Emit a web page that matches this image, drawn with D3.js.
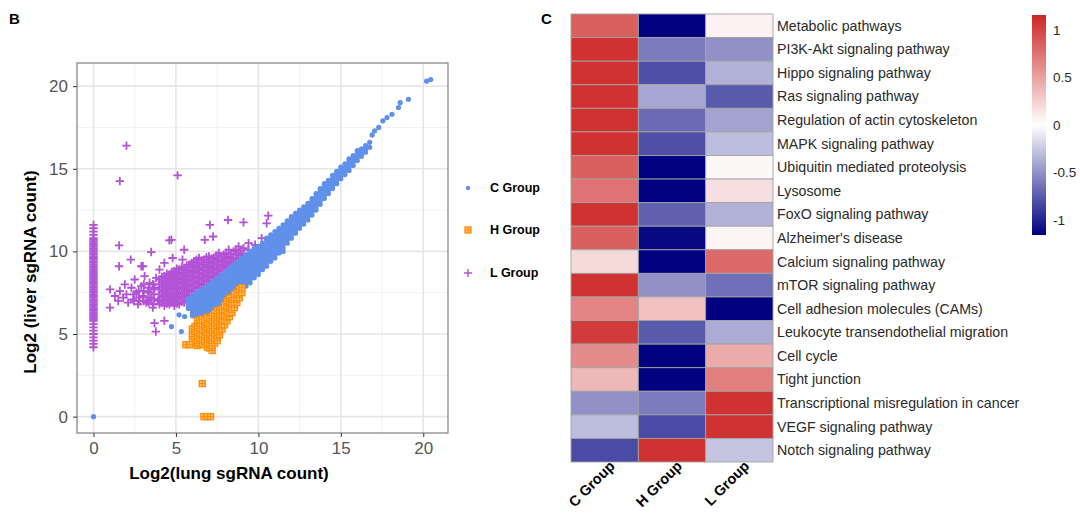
<!DOCTYPE html>
<html>
<head>
<meta charset="utf-8">
<script src="https://cdn.jsdelivr.net/npm/d3@7"></script>
<style>
  body { margin: 0; background: #fff; }
  svg text { font-family: "Liberation Sans", Arial, Helvetica, sans-serif; }
</style>
</head>
<body>
<div id="chart"></div>
<script>
// ---- panel B data ----
var xTicks = [0, 5, 10, 15, 20];
var yTicks = [0, 5, 10, 15, 20];

// C group: dense diagonal band, one entry per x with the y values seen there
var cBand = [
  [5.75, [6.55, 6.75, 6.95, 7.15]],
  [6.0, [6.1, 6.3, 6.5, 6.7, 6.9, 7.1, 7.3]],
  [6.25, [5.95, 6.15, 6.35, 6.55, 6.75, 6.95, 7.15, 7.35, 7.5]],
  [6.5, [5.9, 6.1, 6.3, 6.5, 6.7, 6.9, 7.1, 7.3, 7.5, 7.65]],
  [6.75, [5.95, 6.15, 6.35, 6.55, 6.75, 6.95, 7.15, 7.35, 7.55, 7.8]],
  [7.0, [6.0, 6.2, 6.4, 6.6, 6.8, 7.0, 7.2, 7.4, 7.6, 7.8, 8.0]],
  [7.25, [6.2, 6.4, 6.6, 6.8, 7.0, 7.2, 7.4, 7.6, 7.8, 8.0, 8.2]],
  [7.5, [6.4, 6.6, 6.8, 7.0, 7.2, 7.4, 7.6, 7.8, 8.0, 8.2, 8.4]],
  [7.75, [6.6, 6.8, 7.0, 7.2, 7.4, 7.6, 7.8, 8.0, 8.2, 8.4, 8.6]],
  [8.0, [6.8, 7.0, 7.2, 7.4, 7.6, 7.8, 8.0, 8.2, 8.4, 8.6, 8.8]],
  [8.25, [7.0, 7.2, 7.4, 7.6, 7.8, 8.0, 8.2, 8.4, 8.6, 8.8, 9.0]],
  [8.5, [7.2, 7.4, 7.6, 7.8, 8.0, 8.2, 8.4, 8.6, 8.8, 9.0, 9.2]],
  [8.75, [7.4, 7.6, 7.8, 8.0, 8.2, 8.4, 8.6, 8.8, 9.0, 9.2, 9.4]],
  [9.0, [7.7, 7.9, 8.1, 8.3, 8.5, 8.7, 8.9, 9.1, 9.3, 9.5, 9.6]],
  [9.25, [7.9, 8.1, 8.3, 8.5, 8.7, 8.9, 9.1, 9.3, 9.5, 9.7, 9.8]],
  [9.5, [8.1, 8.3, 8.5, 8.7, 8.9, 9.1, 9.3, 9.5, 9.7, 9.9, 10.0]],
  [9.75, [8.4, 8.6, 8.8, 9.0, 9.2, 9.4, 9.6, 9.8, 10.0, 10.2]],
  [10.0, [8.6, 8.8, 9.0, 9.2, 9.4, 9.6, 9.8, 10.0, 10.2, 10.3]],
  [10.25, [8.9, 9.1, 9.3, 9.5, 9.7, 9.9, 10.1, 10.3, 10.5]],
  [10.5, [9.1, 9.3, 9.5, 9.7, 9.9, 10.1, 10.3, 10.5, 10.7, 10.8]],
  [10.75, [9.4, 9.6, 9.8, 10.0, 10.2, 10.4, 10.6, 10.8, 11.0]],
  [11.0, [9.6, 9.8, 10.0, 10.2, 10.4, 10.6, 10.8, 11.0, 11.2]],
  [11.25, [9.9, 10.1, 10.3, 10.5, 10.7, 10.9, 11.1, 11.3, 11.4]],
  [11.5, [10.2, 10.4, 10.6, 10.8, 11.0, 11.2, 11.4, 11.6]],
  [11.75, [10.5, 10.7, 10.9, 11.1, 11.3, 11.5, 11.7, 11.85]],
  [12.0, [10.8, 11.0, 11.2, 11.4, 11.6, 11.8, 12.0, 12.1]],
  [12.25, [11.1, 11.3, 11.5, 11.7, 11.9, 12.1, 12.3]],
  [12.5, [11.4, 11.6, 11.8, 12.0, 12.2, 12.4, 12.5]],
  [12.75, [11.65, 11.85, 12.05, 12.25, 12.45, 12.7]],
  [13.0, [11.9, 12.1, 12.3, 12.5, 12.7, 12.9]],
  [13.25, [12.2, 12.4, 12.6, 12.8, 13.0, 13.2]],
  [13.5, [12.5, 12.7, 12.9, 13.1, 13.3, 13.5]],
  [13.75, [12.85, 13.05, 13.25, 13.45, 13.65, 13.8]],
  [14.0, [13.2, 13.4, 13.6, 13.8, 14.0, 14.1]],
  [14.25, [13.5, 13.7, 13.9, 14.1, 14.3]],
  [14.5, [13.8, 14.0, 14.2, 14.4, 14.6]],
  [14.75, [14.1, 14.3, 14.5, 14.7, 14.85]],
  [15.0, [14.4, 14.6, 14.8, 15.0, 15.1]],
  [15.25, [14.65, 14.85, 15.05, 15.3]],
  [15.5, [14.9, 15.1, 15.3, 15.5, 15.6]],
  [15.75, [15.2, 15.4, 15.6, 15.8]],
  [16.0, [15.5, 15.7, 15.9, 16.1]],
  [16.25, [15.75, 15.95, 16.2]],
  [16.5, [16.0, 16.2, 16.4]],
  [16.75, [16.3, 16.6]]
];
var cOutliers = [
  [0, 0], [4.73, 5.45], [5.33, 5.15], [5.19, 6.16], [5.53, 6.06], [11.5, 10.0],
  [12.2, 11.2], [16.9, 17.05], [17.05, 17.3], [17.3, 17.5], [17.55, 17.9],
  [17.8, 18.1], [18.1, 18.3], [18.5, 18.7], [18.6, 19.0], [19.1, 19.2],
  [20.2, 20.3], [20.45, 20.4]
];

// H group: wedge under the band
var hCloud = [
  [6.0, [4.4, 4.7, 5.0, 5.3]],
  [6.15, [4.55, 4.85, 5.15, 5.45]],
  [6.3, [4.3, 4.6, 4.9, 5.2, 5.5, 5.8]],
  [6.45, [4.45, 4.75, 5.05, 5.35, 5.65, 5.85]],
  [6.6, [4.4, 4.7, 5.0, 5.3, 5.6, 5.9]],
  [6.75, [4.35, 4.65, 4.95, 5.25, 5.55, 5.85]],
  [6.9, [4.2, 4.5, 4.8, 5.1, 5.4, 5.7, 6.0]],
  [7.05, [4.15, 4.45, 4.75, 5.05, 5.35, 5.65, 5.95]],
  [7.2, [4.0, 4.3, 4.6, 4.9, 5.2, 5.5, 5.8, 6.1]],
  [7.35, [4.45, 4.75, 5.05, 5.35, 5.65, 5.95, 6.25]],
  [7.5, [4.6, 4.9, 5.2, 5.5, 5.8, 6.1, 6.4]],
  [7.65, [4.95, 5.25, 5.55, 5.85, 6.15, 6.45]],
  [7.8, [5.3, 5.6, 5.9, 6.2, 6.5]],
  [7.95, [5.55, 5.85, 6.15, 6.45, 6.75]],
  [8.1, [5.8, 6.1, 6.4, 6.7, 7.0]],
  [8.25, [6.05, 6.35, 6.65, 6.95, 7.15]],
  [8.4, [6.3, 6.6, 6.9, 7.2]],
  [8.55, [6.6, 6.9, 7.2, 7.4]],
  [8.7, [6.9, 7.2, 7.5]],
  [8.85, [7.2, 7.5, 7.7]],
  [9.0, [7.5, 7.8]]
];
var hOutliers = [
  [5.6, 4.35], [5.85, 4.35], [6.6, 2.0], [6.7, 0], [6.9, 0], [7.1, 0]
];

// L group: strip at x = 0 and cloud above the band
var lStrip = [4.2, 4.4, 4.6, 4.8, 5.0, 5.2, 5.4, 5.6, 5.8, 5.9, 6.0, 6.1, 6.2,
  6.3, 6.4, 6.5, 6.6, 6.7, 6.8, 6.9, 7.0, 7.1, 7.2, 7.3, 7.4, 7.5, 7.6, 7.7,
  7.8, 7.9, 8.0, 8.1, 8.2, 8.3, 8.4, 8.5, 8.6, 8.7, 8.8, 8.9, 9.0, 9.1, 9.2,
  9.3, 9.4, 9.5, 9.6, 9.7, 9.8, 9.9, 10.0, 10.1, 10.2, 10.3, 10.4, 10.5, 10.6,
  10.7, 10.8, 11.0, 11.2, 11.4, 11.6];
var lCloud = [
  [2.45, [7.0, 7.4]],
  [2.75, [7.2, 7.6]],
  [3.05, [7.0, 7.6, 8.0]],
  [3.35, [6.9, 7.2, 7.5, 7.8]],
  [3.65, [6.8, 7.1, 7.4, 7.7, 8.0]],
  [4.0, [6.8, 7.1, 7.4, 7.7, 8.0, 8.3]],
  [4.15, [6.95, 7.25, 7.55, 7.85, 8.15, 8.45]],
  [4.3, [6.7, 7.0, 7.3, 7.6, 7.9, 8.2, 8.5]],
  [4.45, [6.85, 7.15, 7.45, 7.75, 8.05, 8.35, 8.65]],
  [4.6, [6.8, 7.1, 7.4, 7.7, 8.0, 8.3, 8.6]],
  [4.75, [6.95, 7.25, 7.55, 7.85, 8.15, 8.45, 8.75]],
  [4.9, [6.7, 7.0, 7.3, 7.6, 7.9, 8.2, 8.5, 8.8]],
  [5.05, [6.85, 7.15, 7.45, 7.75, 8.05, 8.35, 8.65, 8.95]],
  [5.2, [6.8, 7.1, 7.4, 7.7, 8.0, 8.3, 8.6, 8.9]],
  [5.35, [6.95, 7.25, 7.55, 7.85, 8.15, 8.45, 8.75, 9.05]],
  [5.5, [6.9, 7.2, 7.5, 7.8, 8.1, 8.4, 8.7, 9.0]],
  [5.65, [7.05, 7.35, 7.65, 7.95, 8.25, 8.55, 8.85, 9.15]],
  [5.8, [7.4, 7.7, 8.0, 8.3, 8.6, 8.9, 9.2]],
  [5.95, [7.55, 7.85, 8.15, 8.45, 8.75, 9.05, 9.3]],
  [6.1, [7.6, 7.9, 8.2, 8.5, 8.8, 9.1, 9.4]],
  [6.25, [7.75, 8.05, 8.35, 8.65, 8.95, 9.25, 9.5]],
  [6.4, [7.8, 8.1, 8.4, 8.7, 9.0, 9.3, 9.6]],
  [6.55, [7.95, 8.25, 8.55, 8.85, 9.15, 9.45]],
  [6.7, [8.0, 8.3, 8.6, 8.9, 9.2, 9.5]],
  [6.85, [8.15, 8.45, 8.75, 9.05, 9.35, 9.65]],
  [7.0, [8.2, 8.5, 8.8, 9.1, 9.4, 9.7]],
  [7.15, [8.35, 8.65, 8.95, 9.25, 9.55]],
  [7.3, [8.4, 8.7, 9.0, 9.3, 9.6]],
  [7.45, [8.55, 8.85, 9.15, 9.45, 9.75]],
  [7.6, [8.6, 8.9, 9.2, 9.5, 9.9]],
  [7.75, [8.8, 9.1, 9.4, 9.7]],
  [7.9, [8.9, 9.2, 9.5, 9.8]],
  [8.05, [9.0, 9.3, 9.6, 9.9]],
  [8.2, [9.1, 9.4, 9.7, 10.1]],
  [8.35, [9.25, 9.55, 9.85]],
  [8.5, [9.3, 9.6, 10.0]],
  [8.65, [9.5, 9.8, 10.1]],
  [8.8, [9.6, 9.9, 10.3]],
  [8.95, [9.75, 10.05]],
  [9.1, [9.8, 10.2]],
  [9.4, [10.1, 10.5]],
  [9.8, [10.4]],
  [10.2, [10.8]]
];
var lScatter = [
  [1.0, 7.7], [1.0, 6.6], [1.3, 7.3], [1.5, 7.0], [1.6, 7.6], [1.8, 7.2],
  [1.9, 8.0], [2.0, 7.4], [2.1, 6.9], [2.3, 7.8], [2.4, 7.1], [2.5, 8.3],
  [2.6, 7.5], [2.8, 7.0], [2.9, 7.9], [3.0, 7.3], [3.1, 8.5], [3.2, 6.9],
  [3.3, 7.6], [3.4, 8.1], [3.5, 7.2], [3.6, 6.6], [3.7, 7.8], [3.8, 8.4],
  [3.9, 7.0], [3.6, 8.0], [3.3, 7.0], [2.7, 6.8],
  [1.55, 10.36], [1.55, 9.1], [2.26, 9.5], [2.9, 9.1], [3.0, 9.1], [3.5, 9.96],
  [4.6, 10.67], [4.3, 9.3], [4.0, 8.9], [4.8, 9.6], [5.5, 10.1], [5.4, 9.5],
  [4.73, 10.7], [6.75, 10.7], [7.25, 10.9], [7.06, 11.6], [8.16, 11.9],
  [9.1, 11.76], [10.6, 12.16], [10.5, 11.7], [1.6, 14.25], [2.0, 16.4],
  [5.1, 14.6], [3.7, 5.66], [3.78, 5.15], [4.3, 5.8]
];
var groups = ["C Group", "H Group", "L Group"];

// ---- panel C data ----
var pathways = [
  "Metabolic pathways", "PI3K-Akt signaling pathway", "Hippo signaling pathway",
  "Ras signaling pathway", "Regulation of actin cytoskeleton", "MAPK signaling pathway",
  "Ubiquitin mediated proteolysis", "Lysosome", "FoxO signaling pathway",
  "Alzheimer's disease", "Calcium signaling pathway", "mTOR signaling pathway",
  "Cell adhesion molecules (CAMs)", "Leukocyte transendothelial migration", "Cell cycle",
  "Tight junction", "Transcriptional misregulation in cancer", "VEGF signaling pathway",
  "Notch signaling pathway"
];
var cGroup = [0.85, 1.1, 1.1, 1.1, 1.1, 1.1, 0.85, 0.75, 1.1, 0.85, 0.2, 1.1, 0.65, 1.05, 0.62, 0.38, -0.5, -0.3, -0.82];
var hGroup = [-1.15, -0.6, -0.8, -0.4, -0.68, -0.8, -1.15, -1.15, -0.72, -1.12, -1.15, -0.5, 0.33, -0.75, -1.15, -1.15, -0.6, -0.82, 1.1];
var lGroup = [0.07, -0.5, -0.35, -0.75, -0.42, -0.3, 0.04, 0.17, -0.35, 0.06, 0.8, -0.65, -1.15, -0.38, 0.45, 0.68, 1.1, 1.1, -0.27];
var legendTicks = [1, 0.5, 0, -0.5, -1];

var svg = d3.select("#chart").append("svg")
  .attr("width", 1080).attr("height", 515)
  .style("background", "#fff");

/* ===== Panel B ===== */
var x = d3.scaleLinear().domain([-1.0, 21.5]).range([77, 448]);
var y = d3.scaleLinear().domain([-0.99, 21.4]).range([433, 63]);

svg.append("text").attr("x", 9).attr("y", 24)
  .attr("font-size", 15).attr("font-weight", "bold").text("B");

var grid = svg.append("g");
var minor = [2.5, 7.5, 12.5, 17.5];
grid.selectAll(".vmin").data(minor).enter().append("line")
  .attr("x1", d => x(d)).attr("x2", d => x(d)).attr("y1", 63).attr("y2", 433)
  .attr("stroke", "#f2f2f2").attr("stroke-width", 1);
grid.selectAll(".hmin").data(minor).enter().append("line")
  .attr("y1", d => y(d)).attr("y2", d => y(d)).attr("x1", 77).attr("x2", 448)
  .attr("stroke", "#f2f2f2").attr("stroke-width", 1);
grid.selectAll(".vmaj").data(xTicks).enter().append("line")
  .attr("x1", d => x(d)).attr("x2", d => x(d)).attr("y1", 63).attr("y2", 433)
  .attr("stroke", "#e6e6e6").attr("stroke-width", 1.6);
grid.selectAll(".hmaj").data(yTicks).enter().append("line")
  .attr("y1", d => y(d)).attr("y2", d => y(d)).attr("x1", 77).attr("x2", 448)
  .attr("stroke", "#e6e6e6").attr("stroke-width", 1.6);

function flatten(cols) {
  var out = [];
  cols.forEach(c => c[1].forEach(v => out.push([c[0], v])));
  return out;
}
var lPts = lStrip.map(v => [0, v]).concat(flatten(lCloud), lScatter);
var hPts = flatten(hCloud).concat(hOutliers);
var cPts = flatten(cBand).concat(cOutliers);

var purple = "#b352d6", orange = "#ff8c00", blue = "#6090ea";

var pts = svg.append("g");
pts.selectAll(".l").data(lPts).enter().append("path")
  .attr("d", "M-4.2,0H4.2M0,-4.2V4.2")
  .attr("transform", d => `translate(${x(d[0])},${y(d[1])})`)
  .attr("stroke", purple).attr("stroke-width", 1.8).attr("fill", "none");

pts.selectAll(".c").data(cPts).enter().append("circle")
  .attr("cx", d => x(d[0])).attr("cy", d => y(d[1])).attr("r", 2.6)
  .attr("fill", blue);

var hg = pts.selectAll(".h").data(hPts).enter().append("g")
  .attr("transform", d => `translate(${x(d[0])},${y(d[1])})`);
hg.append("rect").attr("x", -3).attr("y", -3).attr("width", 6).attr("height", 6)
  .attr("fill", "#ffc680").attr("stroke", orange).attr("stroke-width", 1.3);
hg.append("path").attr("d", "M-3,0H3M0,-3V3").attr("stroke", orange).attr("stroke-width", 1.1);

// frame
svg.append("rect").attr("x", 77).attr("y", 63).attr("width", 371).attr("height", 370)
  .attr("fill", "none").attr("stroke", "#8a8a8a").attr("stroke-width", 1.3);

var xAxis = svg.append("g").attr("transform", "translate(0,433)")
  .call(d3.axisBottom(x).tickValues(xTicks).tickSize(4).tickPadding(5));
var yAxis = svg.append("g").attr("transform", "translate(77,0)")
  .call(d3.axisLeft(y).tickValues(yTicks).tickSize(4).tickPadding(5));
[xAxis, yAxis].forEach(a => {
  a.select(".domain").remove();
  a.selectAll("line").attr("stroke", "#333");
  a.selectAll("text").attr("fill", "#555").attr("font-size", 17)
    .attr("font-family", "Liberation Sans, Arial, sans-serif");
});

svg.append("text").attr("x", 229).attr("y", 479).attr("text-anchor", "middle")
  .attr("font-size", 17).attr("font-weight", "bold").text("Log2(lung sgRNA count)");
svg.append("text").attr("transform", "translate(36,272) rotate(-90)")
  .attr("text-anchor", "middle").attr("font-size", 17).attr("font-weight", "bold")
  .text("Log2 (liver sgRNA count)");

// legend
var leg = svg.append("g");
var legY = [188, 230, 273];
leg.append("circle").attr("cx", 468).attr("cy", legY[0]).attr("r", 2.2).attr("fill", blue);
var lh = leg.append("g").attr("transform", `translate(468,${legY[1]})`);
lh.append("rect").attr("x", -3).attr("y", -3).attr("width", 6).attr("height", 6)
  .attr("fill", "#ffc680").attr("stroke", orange).attr("stroke-width", 1.3);
lh.append("path").attr("d", "M-3,0H3M0,-3V3").attr("stroke", orange).attr("stroke-width", 1.1);
leg.append("path").attr("d", "M-4,0H4M0,-4V4").attr("transform", `translate(468,${legY[2]})`)
  .attr("stroke", purple).attr("stroke-width", 1.4);
leg.selectAll(".lt").data(groups).enter().append("text")
  .attr("x", 490).attr("y", (d, i) => legY[i]).attr("dy", "0.35em")
  .attr("font-size", 12.5).attr("font-weight", "bold").text(d => d);

/* ===== Panel C ===== */
svg.append("text").attr("x", 541).attr("y", 24)
  .attr("font-size", 15).attr("font-weight", "bold").text("C");

var color = d3.scaleLinear().domain([-1.16, 0, 1.16])
  .range(["#000080", "#ffffff", "#cd2626"]).clamp(true);
var hx = d3.scaleBand().domain(groups).range([571, 773]);
var hy = d3.scaleBand().domain(pathways).range([14, 462]);
var cols = [cGroup, hGroup, lGroup];

var cells = [];
pathways.forEach((p, r) => groups.forEach((g, c) => cells.push({ p: p, g: g, v: cols[c][r] })));

svg.append("g").selectAll("rect").data(cells).enter().append("rect")
  .attr("x", d => hx(d.g)).attr("y", d => hy(d.p))
  .attr("width", hx.bandwidth()).attr("height", hy.bandwidth())
  .attr("fill", d => color(d.v)).attr("stroke", "#a3a3a3").attr("stroke-width", 0.9);

svg.append("g").selectAll("text").data(pathways).enter().append("text")
  .attr("x", 777).attr("y", d => hy(d) + hy.bandwidth() / 2).attr("dy", "0.35em")
  .attr("font-size", 14.2).attr("fill", "#2a2a2a").text(d => d);

svg.append("g").selectAll("text").data(groups).enter().append("text")
  .attr("transform", d => `translate(${hx(d) + hx.bandwidth() / 2 + 11},467) rotate(-45)`)
  .attr("text-anchor", "end").attr("font-size", 14.5).attr("font-weight", "bold").text(d => d);

// colour key
var ky = d3.scaleLinear().domain([-1.158, 1.158]).range([235, 15]);
var grad = svg.append("defs").append("linearGradient").attr("id", "key")
  .attr("x1", 0).attr("y1", 1).attr("x2", 0).attr("y2", 0);
[-1.158, -0.6, 0, 0.6, 1.158].forEach(v => {
  grad.append("stop").attr("offset", (v + 1.158) / 2.316).attr("stop-color", color(v));
});
svg.append("rect").attr("x", 1032).attr("y", ky(1.158)).attr("width", 14)
  .attr("height", ky(-1.158) - ky(1.158)).attr("fill", "url(#key)");
svg.append("g").selectAll("text").data(legendTicks).enter().append("text")
  .attr("x", 1053).attr("y", d => ky(d)).attr("dy", "0.35em")
  .attr("font-size", 13.5).attr("fill", "#2a2a2a").text(d => d);
</script>
</body>
</html>
